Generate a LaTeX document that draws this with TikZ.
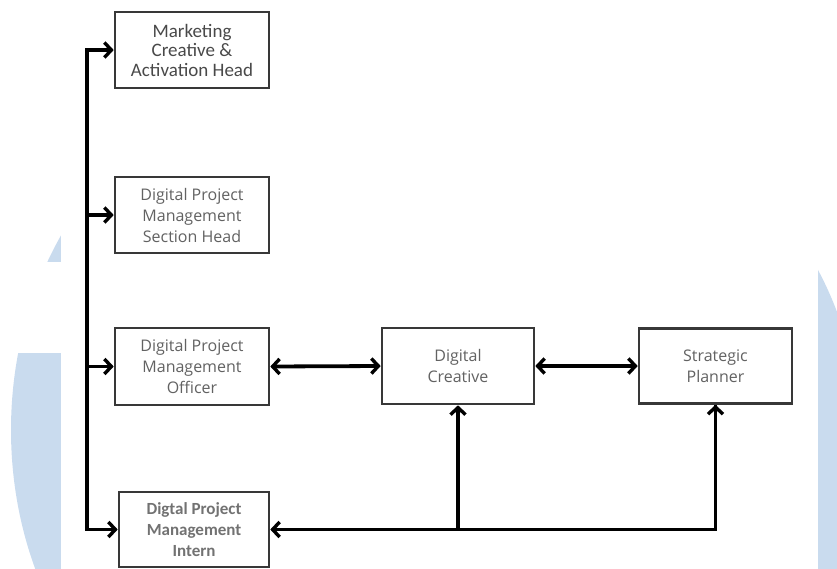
\documentclass[tikz,border=0pt]{standalone}
\usepackage{fontspec}
\setmainfont{Open Sans}
\newfontfamily\calib{Carlito}
\usetikzlibrary{arrows.meta}
\definecolor{wm}{HTML}{C9DBEE}
\definecolor{boxline}{HTML}{383838}
\definecolor{txt}{HTML}{626262}
\tikzset{
  orgbox/.style={draw=boxline, line width=2.6pt, fill=white, inner sep=0pt, align=center,
    text=txt, font=\fontsize{16}{21}\selectfont},
  conn/.style={line width=3.8pt, black, line join=miter},
  tipped/.style={conn, -{Straight Barb[length=7pt,width=15pt,line width=3.4pt]}},
  dtipped/.style={conn, {Straight Barb[length=7pt,width=15pt,line width=3.4pt]}-{Straight Barb[length=7pt,width=15pt,line width=3.4pt]}}
}
\begin{document}
\begin{tikzpicture}[x=1pt,y=-1pt]
\useasboundingbox (0,0) rectangle (837,568);
\begin{scope}
\clip (0,0) rectangle (837,568);
\fill[wm] (300,430) ellipse [x radius=289, y radius=346];
\fill[wm] (560,440) ellipse [x radius=300, y radius=333];
\fill[white] (61,-5) rectangle (818,575);
\fill[white] (-5,262) rectangle (61,353);
\end{scope}

\node[orgbox, minimum width=154pt, minimum height=76pt, font=\calib\fontsize{19}{19.5}\selectfont, text=txt!75!black] (mk) at (192,50) {Marketing\\Creative \&\\Activation Head};
\node[orgbox, minimum width=154pt, minimum height=76pt] (sh) at (192,215) {Digital Project\\Management\\Section Head};
\node[orgbox, minimum width=154pt, minimum height=77pt] (of) at (192,366.5) {Digital Project\\Management\\Officer};
\node[orgbox, minimum width=152pt, minimum height=76pt] (dc) at (458,366) {Digital\\Creative};
\node[orgbox, minimum width=153pt, minimum height=75pt] (sp) at (715.5,366) {Strategic\\Planner};
\node[orgbox, minimum width=150pt, minimum height=75pt, font=\calib\bfseries\fontsize{17}{21}\selectfont, text=txt!90] (in) at (194,529.5) {Digtal Project\\Management\\Intern};

\coordinate (t1) at (87,50);
\coordinate (t2) at (87,215);
\coordinate (t3) at (87,366.5);
\coordinate (t4) at (87,529.5);
\draw[conn] ([yshift=-1.9pt]t1) -- ([yshift=1.9pt]t4);
\draw[tipped] ([xshift=-1.9pt]t1) -- (mk.west);
\draw[tipped] (t2) -- (sh.west);
\draw[tipped] (t3) -- (of.west);
\draw[tipped] ([xshift=-1.9pt]t4) -- (in.west);

\draw[dtipped] (of.east) -- (dc.west);
\draw[dtipped] (dc.east) -- (sp.west);

\coordinate (j1) at (dc.south |- in.east);
\coordinate (j2) at (sp.south |- in.east);
\draw[conn, {Straight Barb[length=7pt,width=15pt,line width=3.4pt]}-] (in.east) -- (j2) -- (sp.south);
\draw[tipped] (j2) -- (sp.south);
\draw[tipped] (j1) -- (dc.south);
\end{tikzpicture}
\end{document}
